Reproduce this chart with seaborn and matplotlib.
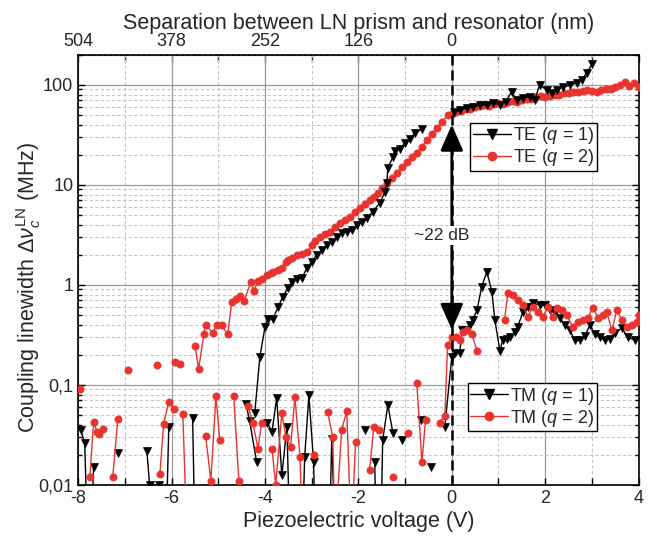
"""Coupling linewidth vs piezo voltage (TE / TM, q = 1, 2), log scale."""

import numpy as np
import pandas as pd
import matplotlib
matplotlib.use("Agg")
import matplotlib.pyplot as plt
from matplotlib.lines import Line2D
from matplotlib.ticker import MultipleLocator, FuncFormatter, LogLocator, NullFormatter
import seaborn as sns

nan = np.nan
RED = "#e8332e"

# TE (q = 1) - black triangles
te1_v = [-4.22, -4.11, -4.00, -3.94, -3.83, -3.72, -3.62, -3.51, -3.43, -3.32, -3.21, -3.10,
         -3.00, -2.89, -2.78, -2.68, -2.57, -2.46, -2.36, -2.25, -2.14, -2.03, -1.92, -1.82,
         -1.69, -1.54, -1.43, -1.39, -1.37, -1.26, -1.22, -1.11, -1.01, -0.90, -0.79, -0.64, nan,
         0.05, 0.17, 0.32, 0.45, 0.60, 0.75, 0.88, 1.03, 1.15, 1.28, 1.39, 1.52, 1.67, 1.78,
         1.88, 2.03, 2.14, 2.25, 2.38, 2.53, 2.68, 2.78, 2.89, 3.00]
te1_w = [0.052, 0.19, 0.38, 0.46, 0.46, 0.60, 0.76, 0.93, 1.07, 1.15, 1.17, 1.48,
         1.7, 2.0, 2.24, 2.5, 2.7, 3.0, 3.3, 3.4, 3.5, 4.0, 4.3, 4.7,
         5.4, 6.6, 8.5, 10.5, 14.8, 19, 22, 23, 26, 29, 33, 36, nan,
         53, 56, 59, 60, 63, 63, 66, 63, 68, 85, 70, 74, 76, 71,
         100, 89, 83, 89, 95, 100, 105, 112, 132, 160]

# TE (q = 2) - red circles
te2_v = [-6.94, nan, -6.32, nan, -5.93, -5.83, nan, -5.50, -5.42, -5.31, -5.27, -5.12, -5.03,
         -4.93, -4.80, -4.71, -4.62, -4.54, -4.45, -4.30, -4.24, -4.15, -4.07, -3.96, -3.88,
         -3.83, -3.73, -3.64, -3.56, -3.51, -3.42, -3.32, -3.20, -3.10, -3.00, -2.92, -2.83,
         -2.72, -2.61, -2.50, -2.40, -2.29, -2.18, -2.07, -1.97, -1.86, -1.76, -1.67, -1.58,
         -1.49, -1.39, -1.29, -1.18, -1.07, -0.96, -0.86, -0.75, -0.64, -0.54, -0.43, -0.32,
         -0.20, -0.09, 0.00, 0.10, 0.20, 0.30, 0.40, 0.50, 0.60, 0.70, 0.80, 0.90, 1.00, 1.10,
         1.20, 1.30, 1.40, 1.50, 1.60, 1.70, 1.80, 1.90, 2.00, 2.10, 2.20, 2.30, 2.40, 2.50,
         2.60, 2.70, 2.80, 2.90, 3.00, 3.10, 3.20, 3.30, 3.40, 3.50, 3.60, 3.70, 3.80, 3.90, 4.00]
te2_w = [0.141, nan, 0.158, nan, 0.17, 0.16, nan, 0.245, 0.145, 0.32, 0.40, 0.33, 0.40,
         0.40, 0.32, 0.68, 0.72, 0.78, 0.69, 1.07, 0.87, 1.10, 1.15, 1.26, 1.30,
         1.35, 1.40, 1.48, 1.70, 1.78, 1.85, 2.0, 2.05, 2.14, 2.5, 2.75, 3.0,
         3.2, 3.4, 3.8, 4.2, 4.5, 4.8, 5.3, 5.9, 6.5, 7.1, 7.6, 8.3,
         9.4, 10.5, 11.8, 13.2, 15, 17, 19, 21, 24, 28, 32, 37,
         43, 50, 51, 53, 55, 57, 58, 60, 61, 63, 62, 64, 66, 65,
         68, 69, 68, 71, 73, 72, 75, 77, 76, 78, 80, 79, 82, 83,
         85, 84, 86, 88, 87, 85, 89, 91, 90, 95, 100, 108, 97, 105, 96]

# TM (q = 1) - black triangles
tm1_v = [-7.94, -7.86, -7.80, -7.72, -7.67, nan, -7.15, nan, -6.53, -6.47, -6.27, -6.12,
         -6.06, nan, -5.55, -5.50, nan, -4.41, -4.33, -4.18, nan, -3.96, -3.85, -3.75,
         -3.64, -3.53, -3.47, nan, -3.20, -3.15, -3.06, -2.96, -2.92, nan, -2.62, -2.57,
         -2.50, nan, -1.86, nan, -1.65, -1.62, nan, -1.52, -1.48, -1.37, -1.26, nan, -1.07,
         nan, -0.66, nan, -0.45, nan, -0.15, 0.00, 0.06, 0.17, 0.22, 0.28, 0.39, 0.45, 0.54,
         0.64, 0.75, 0.86, 0.92, 1.03, 1.09, 1.18, 1.24, 1.35, 1.41, 1.52, 1.63, 1.73, 1.88,
         1.99, 2.10, 2.21, 2.31, 2.42, 2.53, 2.63, 2.74, 2.85, 2.96, 3.06, 3.17, 3.28, 3.38,
         3.49, 3.64, 3.77, 3.92]
tm1_w = [0.035, 0.026, 0.003, 0.003, 0.015, nan, 0.021, nan, 0.022, 0.010, 0.010, 0.003,
         0.038, nan, 0.047, 0.003, nan, 0.065, 0.044, 0.017, nan, 0.042, 0.034, 0.074,
         0.0125, 0.038, 0.003, nan, 0.003, 0.019, 0.079, 0.017, 0.003, nan, 0.003, 0.029,
         0.003, nan, 0.035, nan, 0.017, 0.003, nan, 0.003, 0.028, 0.063, 0.033, nan, 0.028,
         nan, 0.045, nan, 0.015, nan, 0.038, 0.19, 0.21, 0.21, 0.35, 0.35, 0.40, 0.45, 0.56,
         0.96, 1.35, 0.85, 0.45, 0.22, 0.28, 0.29, 0.30, 0.34, 0.38, 0.53, 0.60, 0.66, 0.63,
         0.63, 0.56, 0.52, 0.47, 0.40, 0.35, 0.28, 0.28, 0.31, 0.40, 0.32, 0.30, 0.28, 0.29,
         0.33, 0.37, 0.30, 0.28]

# TM (q = 2) - red circles
tm2_v = [-7.97, nan, -7.75, -7.67, -7.60, -7.56, -7.47, nan, -7.26, -7.15, nan, -6.25, -6.17,
         -6.06, -5.95, nan, -5.76, -5.67, nan, -5.27, -5.16, -5.05, -4.97, nan, -4.67, -4.56,
         nan, -4.37, -4.26, -4.15, -4.07, nan, -3.85, -3.77, -3.64, -3.55, -3.45, -3.36, -3.25,
         -3.20, nan, -2.95, nan, -2.66, -2.55, -2.50, -2.36, -2.25, -2.15, -2.06, nan, -1.76,
         -1.67, -1.56, nan, -1.26, nan, -0.94, nan, -0.75, -0.64, -0.56, nan, -0.26, -0.15,
         -0.09, 0.00, 0.10, 0.17, 0.24, 0.32, 0.43, 0.54, nan, 1.13, 1.20, 1.31, 1.41, 1.52,
         1.63, 1.73, 1.84, 1.95, 2.06, 2.16, 2.25, 2.36, 2.46, 2.59, 2.70, 2.81, 2.91, 3.02,
         3.13, 3.23, 3.32, 3.43, 3.53, 3.64, 3.75, 3.85, 3.96, 4.00]
tm2_w = [0.091, nan, 0.012, 0.043, 0.034, 0.032, 0.036, nan, 0.012, 0.046, nan, 0.013, 0.041,
         0.068, 0.057, nan, 0.051, 0.003, nan, 0.031, 0.011, 0.078, 0.028, nan, 0.078, 0.011,
         nan, 0.062, 0.042, 0.023, 0.042, nan, 0.023, 0.010, 0.052, 0.030, 0.024, 0.076, 0.019,
         0.003, nan, 0.020, nan, 0.054, 0.030, 0.003, 0.035, 0.055, 0.003, 0.027, nan, 0.014,
         0.038, 0.035, nan, 0.012, nan, 0.033, nan, 0.105, 0.017, 0.045, nan, 0.042, 0.049,
         0.25, 0.30, 0.30, 0.28, 0.34, 0.35, 0.32, 0.22, nan, 0.45, 0.83, 0.80, 0.71, 0.63,
         0.48, 0.60, 0.54, 0.48, 0.60, 0.48, 0.59, 0.56, 0.50, 0.38, 0.43, 0.45, 0.47, 0.59,
         0.47, 0.50, 0.53, 0.35, 0.56, 0.45, 0.38, 0.40, 0.43, 0.50]

top_ticks = [-8, -6, -4, -2, 0]
top_labels = ["504", "378", "252", "126", "0"]


def segments(xs, ys):
    df = pd.DataFrame({"v": xs, "w": ys})
    df["seg"] = df["v"].isna().cumsum()
    return df.dropna()


def draw(ax, xs, ys, color, marker, ms):
    df = segments(xs, ys)
    sns.lineplot(data=df, x="v", y="w", units="seg", estimator=None, sort=False,
                 color=color, marker=marker, markersize=ms, markeredgecolor=color,
                 markeredgewidth=0.5, linewidth=1.0, ax=ax, legend=False, zorder=3)


sns.set_style("white")
plt.rcParams["font.family"] = ["Liberation Sans", "DejaVu Sans"]
plt.rcParams["mathtext.fontset"] = "custom"
plt.rcParams["mathtext.rm"] = "Liberation Sans"
plt.rcParams["mathtext.it"] = "Liberation Sans:italic"
plt.rcParams["axes.unicode_minus"] = False

fig, ax = plt.subplots(figsize=(6.57, 5.37), dpi=100)
fig.subplots_adjust(left=0.119, right=0.972, top=0.898, bottom=0.097)
ax.set_yscale("log")

draw(ax, tm1_v, tm1_w, "black", "v", 5.8)
draw(ax, tm2_v, tm2_w, RED, "o", 5.2)
draw(ax, te2_v, te2_w, RED, "o", 5.2)
draw(ax, te1_v, te1_w, "black", "v", 5.8)

ax.set_xlim(-8, 4)
ax.set_ylim(0.01, 200)

# grid
ax.xaxis.set_major_locator(MultipleLocator(2))
ax.xaxis.set_minor_locator(MultipleLocator(1))
ax.yaxis.set_major_locator(LogLocator(base=10, numticks=10))
ax.yaxis.set_minor_locator(LogLocator(base=10, subs=np.arange(2, 10), numticks=20))
ax.yaxis.set_minor_formatter(NullFormatter())
ax.yaxis.set_major_formatter(FuncFormatter(lambda v, p: f"{v:g}".replace(".", ",")))
ax.xaxis.set_major_formatter(FuncFormatter(lambda v, p: f"{v:g}"))
ax.grid(which="major", color="#9a9a9a", lw=0.9, ls="-", zorder=0)
ax.grid(which="minor", color="#c6c6c6", lw=0.8, ls=(0, (3, 2)), zorder=0)
ax.set_axisbelow(True)

ax.tick_params(which="both", direction="in", labelsize=13, right=True, top=False,
               bottom=True, left=True, width=1.0, color="black")
ax.tick_params(which="major", length=5)
ax.tick_params(which="minor", length=3)
ax.tick_params(axis="x", which="minor", length=5)
for s in ax.spines.values():
    s.set_color("black")
    s.set_linewidth(1.2)

sec = ax.secondary_xaxis("top")
sec.set_xticks(top_ticks, labels=top_labels)
sec.xaxis.set_minor_locator(MultipleLocator(1))
sec.tick_params(which="both", direction="in", length=5, width=1.0, labelsize=13)
sec.set_xlabel("Separation between LN prism and resonator (nm)", fontsize=15.5, labelpad=3)

ax.set_xlabel("Piezoelectric voltage (V)", fontsize=15.5, labelpad=3)
ax.set_ylabel(r"Coupling linewidth $\Delta\nu_c^{\mathrm{LN}}$ (MHz)", fontsize=15.5)
ax.yaxis.set_label_coords(-0.062, 0.46)

# dashed line at 0 V and the ~22 dB arrow
ax.axvline(0, color="black", lw=1.8, ls=(0, (4, 2)), zorder=4)
ax.annotate("", xy=(0, 0.355), xytext=(0, 40), zorder=5,
            arrowprops=dict(arrowstyle="<|-|>,head_length=1.6,head_width=0.7",
                            color="black", lw=2, mutation_scale=10, shrinkA=0, shrinkB=0))
ax.text(-0.22, 3.1, "~22 dB", ha="center", va="center", fontsize=12.5, zorder=6,
        bbox=dict(facecolor="white", edgecolor="none", pad=1.5))


# legends
def handle(color, marker, ms):
    return Line2D([], [], color=color, marker=marker, markersize=ms, lw=1.0,
                  markeredgecolor=color)


leg_kw = dict(fontsize=13, frameon=True, fancybox=False, framealpha=1, edgecolor="black",
              handlelength=2.1, handletextpad=0.1, labelspacing=0.05, borderpad=0.15,
              borderaxespad=0, loc="upper left")
leg1 = ax.legend([handle("black", "v", 6.5), handle(RED, "o", 6)],
                 [r"TE ($q$ = 1)", r"TE ($q$ = 2)"], bbox_to_anchor=(0.700, 0.842), **leg_kw)
leg1.get_frame().set_linewidth(1.0)
ax.add_artist(leg1)
leg2 = ax.legend([handle("black", "v", 6.5), handle(RED, "o", 6)],
                 [r"TM ($q$ = 1)", r"TM ($q$ = 2)"], bbox_to_anchor=(0.695, 0.237), **leg_kw)
leg2.get_frame().set_linewidth(1.0)
leg1.set_zorder(7)
leg2.set_zorder(7)

fig.savefig("out.png", dpi=100)
